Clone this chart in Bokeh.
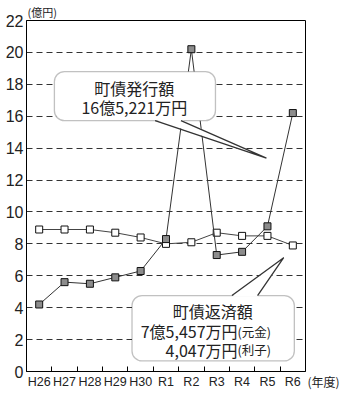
import numpy as np
from bokeh.plotting import figure
from bokeh.models import Range1d, FixedTicker, BoxAnnotation, PolyAnnotation, Label, LinearAxis
from bokeh.core.properties import value
from bokeh.embed import file_html
from bokeh.resources import INLINE

# ---- data ----
categories = ["H26", "H27", "H28", "H29", "H30", "R1", "R2", "R3", "R4", "R5", "R6"]
issued = [4.2, 5.6, 5.5, 5.9, 6.3, 8.3, 20.2, 7.3, 7.5, 9.1, 16.2]    # 町債発行額 (億円)
repaid = [8.9, 8.9, 8.9, 8.7, 8.4, 8.0, 8.1, 8.7, 8.5, 8.5, 7.9]     # 町債返済額 (億円)
y_ticks = [0, 2, 4, 6, 8, 10, 12, 14, 16, 18, 20, 22]

y_unit = "(億円)"
x_unit = "(年度)"
issued_title = "町債発行額"
issued_amount = "16億5,221万円"
repaid_title = "町債返済額"
repaid_principal = "7億5,457万円"
repaid_interest = "4,047万円"

n = len(categories)
x_pos = [i + 0.5 for i in range(n)]

JP = "Noto Sans CJK JP"
TXT = "#222222"

p = figure(width=342, height=391, x_range=Range1d(0, n), y_range=Range1d(0, 22),
           output_backend="svg", toolbar_location=None,
           min_border_left=26, min_border_right=10, min_border_top=20, min_border_bottom=16)
p.background_fill_color = "white"
p.border_fill_color = "white"
p.outline_line_color = "black"
p.outline_line_width = 1
p.outline_line_alpha = 1

# unit label above the y axis
p.title.text = y_unit
p.title.align = "left"
p.title.text_font = JP
p.title.text_font_size = "11px"
p.title.text_font_style = "normal"
p.title.text_color = TXT
p.title.standoff = 2
p.title.offset = 1

# grid
p.xgrid.visible = False
p.ygrid.ticker = FixedTicker(ticks=y_ticks[1:-1])
p.ygrid.grid_line_color = "#333333"
p.ygrid.grid_line_dash = "6 4"
p.ygrid.grid_line_width = 1

# y axis
p.yaxis.ticker = FixedTicker(ticks=y_ticks)
p.yaxis.major_tick_in = 0
p.yaxis.major_tick_out = 0
p.yaxis.minor_tick_in = 0
p.yaxis.minor_tick_out = 0
p.yaxis.axis_line_color = "black"
p.yaxis.major_label_text_font = "Liberation Sans"
p.yaxis.major_label_text_font_size = "16px"
p.yaxis.major_label_text_color = TXT
p.yaxis.major_label_standoff = 3

# x axis: labels at category centres, tick marks between categories
p.xaxis.ticker = FixedTicker(ticks=x_pos, minor_ticks=list(range(1, n)))
p.xaxis.major_label_overrides = {x: c for x, c in zip(x_pos, categories)}
p.xaxis.major_tick_in = 0
p.xaxis.major_tick_out = 0
p.xaxis.minor_tick_in = 5
p.xaxis.minor_tick_out = 0
p.xaxis.minor_tick_line_color = "black"
p.xaxis.axis_line_color = "black"
p.xaxis.major_label_text_font = "Liberation Sans"
p.xaxis.major_label_text_font_size = "12.5px"
p.xaxis.major_label_text_color = TXT
p.xaxis.major_label_standoff = 3

# x unit label to the right of the x axis (as a right-side axis label at y=0)
ra = LinearAxis(ticker=FixedTicker(ticks=[0]), major_label_overrides={0: "\n" + x_unit})
ra.axis_line_color = None
ra.major_tick_line_color = None
ra.minor_tick_line_color = None
ra.major_tick_in = 0
ra.major_tick_out = 0
ra.major_label_standoff = 2
ra.major_label_text_font = JP
ra.major_label_text_font_size = "12px"
ra.major_label_text_color = TXT
p.add_layout(ra, "right")

# series
p.line(x_pos, repaid, line_color="#444444", line_width=1)
p.scatter(x_pos, repaid, marker="square", size=7, fill_color="white", line_color="#111111", line_width=1)
p.line(x_pos, issued, line_color="#333333", line_width=1)
p.scatter(x_pos, issued, marker="square", size=7, fill_color="#8c8c8c", line_color="#111111", line_width=1)

def callout(left, right, top, bottom, b1, b2, base_y, tip):
    p.add_layout(BoxAnnotation(left=left, right=right, top=top, bottom=bottom,
                               fill_color="white", fill_alpha=1, line_color="#333333",
                               line_width=1.3, border_radius=10))
    e = 0.08 if base_y == bottom else -0.08
    p.add_layout(PolyAnnotation(xs=[b1, b2, tip[0]], ys=[base_y + e, base_y + e, tip[1]],
                                fill_color="white", fill_alpha=1, line_alpha=0))
    p.line([b1, tip[0], b2], [base_y, tip[1], base_y], line_color="#333333",
           line_width=1.3, level="overlay")

# callout 1 (issued)
callout(1.10, 7.45, 18.8, 15.72, 5.07, 6.09, 15.72, (9.46, 13.37))
p.add_layout(Label(x=4.25, y=17.77, text=issued_title, text_font=JP, text_font_size="16px",
                   text_color=TXT, text_align="center", text_baseline="middle"))
p.add_layout(Label(x=4.25, y=16.57, text=issued_amount, text_font=JP, text_font_size="16px",
                   text_color=TXT, text_align="center", text_baseline="middle"))

# callout 2 (repaid)
callout(4.16, 10.56, 4.76, 0.66, 8.10, 9.11, 4.76, (10.14, 7.13))
p.add_layout(Label(x=7.34, y=3.81, text=repaid_title, text_font=JP, text_font_size="16px",
                   text_color=TXT, text_align="center", text_baseline="middle"))
p.add_layout(Label(x=8.32, y=2.51, text=repaid_principal, text_font=JP, text_font_size="16px",
                   text_color=TXT, text_align="right", text_baseline="middle"))
p.add_layout(Label(x=8.32, y=2.51, text="(元金)", text_font=JP, text_font_size="12.5px",
                   text_color=TXT, text_align="left", text_baseline="middle"))
p.add_layout(Label(x=8.32, y=1.37, text=repaid_interest, text_font=JP, text_font_size="16px",
                   text_color=TXT, text_align="right", text_baseline="middle"))
p.add_layout(Label(x=8.32, y=1.37, text="(利子)", text_font=JP, text_font_size="12.5px",
                   text_color=TXT, text_align="left", text_baseline="middle"))

open("out.html", "w").write(file_html(p, INLINE))
